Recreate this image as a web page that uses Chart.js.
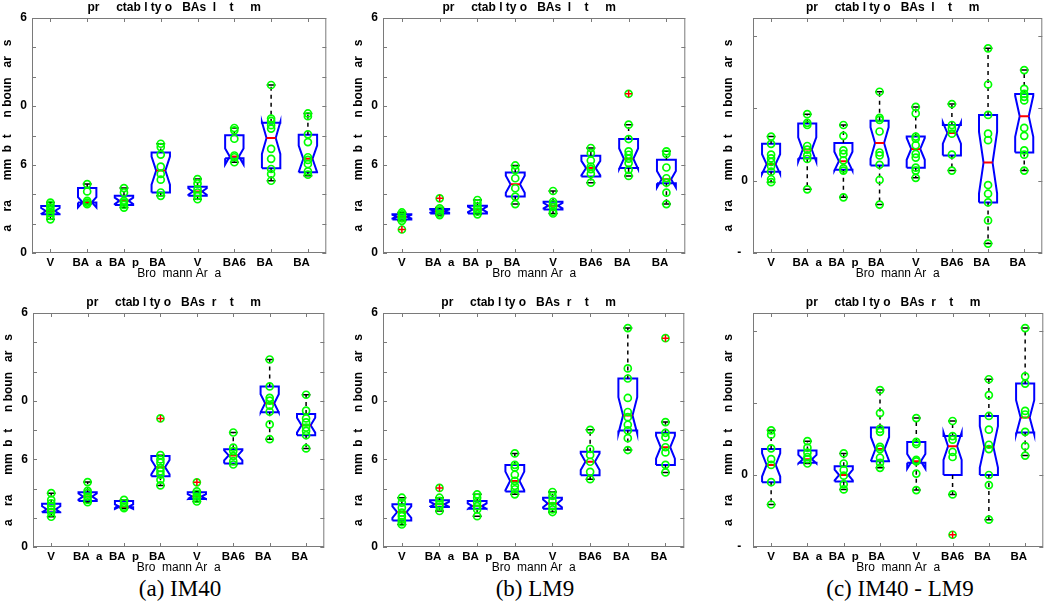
<!DOCTYPE html>
<html>
<head>
<meta charset="utf-8">
<script src="https://cdn.jsdelivr.net/npm/chart.js@4.4.1/dist/chart.umd.min.js"></script>
<style>
    body { margin: 0; background: #fff; width: 1050px; height: 609px; position: relative; overflow: hidden; }
    .panel { position: absolute; }
    .caption { position: absolute; font-family: 'Liberation Serif', 'Times New Roman', serif; font-size: 23px; white-space: nowrap; transform: translateX(-50%); color: #000; }
</style>
</head>
<body>
<div class="panel" style="left:0px;top:0px"><canvas id="aTop" width="332" height="281"></canvas></div>
<div class="panel" style="left:351px;top:0px"><canvas id="bTop" width="340" height="281"></canvas></div>
<div class="panel" style="left:721px;top:0px"><canvas id="cTop" width="327" height="281"></canvas></div>
<div class="panel" style="left:1px;top:295px"><canvas id="aBot" width="329" height="280"></canvas></div>
<div class="panel" style="left:351px;top:295px"><canvas id="bBot" width="339" height="280"></canvas></div>
<div class="panel" style="left:721px;top:295px"><canvas id="cBot" width="328" height="280"></canvas></div>
<div class="caption" style="left:180px;top:576px">(a) IM40</div>
<div class="caption" style="left:535px;top:576px">(b) LM9</div>
<div class="caption" style="left:900px;top:576px">(c) IM40 - LM9</div>

<script>
// 카테고리 / 축 라벨
const categories = ['V', 'BA  a', 'BA  p', 'BA  ', 'V', 'BA6', 'BA    ', 'BA    '];
const titleLeft = 'pr     ctab l ty o   BAs  l    t     m   ';
const titleRight = 'pr     ctab l ty o   BAs  r    t     m   ';
const xTitle = 'Bro  mann Ar  a';
const yTitle = 'a    ra      mm  b  t     n boun   ar   s';

// y 눈금 (값 / 표시 텍스트)
const absTicks = [0, 2, 4, 6, 8, 10, 12, 14, 16];
const absTickText = ['0', '', '', '6', '', '0', '', '', '6'];
const diffTicks = [-1, 0, 1, 2];
const diffTickText = ['-  ', '0', '', ''];

const nSubjects = 20;
const boxHalf = 0.25;
const capHalf = 0.12;

// (a) IM40 - 좌반구
const aTopQ1 = [2.63, 3.43, 3.27, 4.12, 3.89, 6.45, 5.77, 5.49];
const aTopMed = [2.86, 3.45, 3.55, 5.61, 4.19, 6.57, 7.83, 6.41];
const aTopQ3 = [3.20, 4.42, 3.89, 6.84, 4.51, 8.01, 8.86, 8.05];
const aTopLo = [2.29, 3.32, 3.09, 3.89, 3.66, 6.18, 4.92, 5.26];
const aTopHi = [3.43, 4.69, 4.42, 7.44, 5.03, 8.51, 11.44, 9.50];
const aTopPts = [
    [3.43, 3.27, 3.09, 2.91, 2.75, 2.52, 2.29],
    [4.69, 4.19, 3.55, 3.43, 3.32],
    [4.42, 4.12, 3.55, 3.43, 3.27, 3.09],
    [7.44, 7.21, 6.70, 5.88, 5.38, 4.99, 4.12, 3.89],
    [5.03, 4.74, 4.35, 4.12, 3.89, 3.66],
    [8.51, 8.35, 7.78, 6.64, 6.52, 6.18],
    [11.44, 9.15, 8.99, 8.70, 8.47, 7.09, 6.41, 5.72, 5.38, 4.92],
    [9.50, 9.31, 8.08, 7.55, 6.52, 6.34, 6.06, 5.56, 5.33],
];
const aTopOut = [[], [], [], [], [], [], [], []];

// (b) LM9 - 좌반구
const bTopQ1 = [2.28, 2.69, 2.69, 3.84, 2.97, 5.21, 5.78, 4.75];
const bTopMed = [2.47, 2.85, 2.97, 4.68, 3.22, 5.78, 6.42, 5.02];
const bTopQ3 = [2.63, 2.99, 3.22, 5.48, 3.49, 6.62, 7.76, 6.35];
const bTopLo = [2.19, 2.58, 2.63, 3.33, 2.69, 4.79, 5.25, 3.33];
const bTopHi = [2.76, 3.10, 3.61, 5.96, 4.22, 7.15, 8.74, 6.92];
const bTopPts = [
    [2.76, 2.63, 2.47, 2.35, 2.19],
    [3.04, 2.88, 2.69, 2.58],
    [3.61, 3.38, 3.15, 2.97, 2.81, 2.63],
    [5.96, 5.66, 5.09, 4.41, 3.84, 3.33],
    [4.22, 3.49, 3.33, 3.15, 2.81, 2.69],
    [7.15, 6.80, 6.30, 5.89, 5.71, 5.39, 4.79],
    [8.74, 7.76, 6.92, 6.69, 6.42, 6.12, 5.66, 5.25],
    [6.92, 6.74, 5.82, 5.09, 4.79, 4.11, 3.33],
];
const bTopOut = [[1.60], [3.72], [], [], [], [], [10.84], []];

// (c) IM40 - LM9 - 좌반구
const cTopQ1 = [0.125, 0.31, 0.15, 0.21, 0.18, 0.35, -0.30, 0.39];
const cTopMed = [0.23, 0.43, 0.27, 0.52, 0.44, 0.66, 0.25, 0.89];
const cTopQ3 = [0.51, 0.79, 0.52, 0.83, 0.61, 0.77, 0.91, 1.20];
const cTopLo = [-0.02, -0.12, -0.23, -0.33, 0.04, 0.14, -0.87, 0.14];
const cTopHi = [0.61, 0.92, 0.77, 1.23, 1.02, 1.06, 1.83, 1.53];
const cTopPts = [
    [0.61, 0.51, 0.36, 0.31, 0.26, 0.20, 0.125, 0.02, -0.02],
    [0.92, 0.80, 0.77, 0.48, 0.43, 0.35, 0.30, -0.12],
    [0.77, 0.62, 0.42, 0.37, 0.28, 0.17, 0.14, -0.23],
    [1.23, 0.87, 0.84, 0.68, 0.39, 0.35, 0.22, 0.01, -0.33],
    [1.02, 0.93, 0.61, 0.58, 0.49, 0.37, 0.32, 0.18, 0.14, 0.04],
    [1.06, 0.77, 0.72, 0.65, 0.36, 0.14],
    [1.83, 1.33, 0.91, 0.65, 0.56, -0.06, -0.18, -0.30, -0.55, -0.87],
    [1.53, 1.27, 1.20, 1.16, 1.11, 0.73, 0.62, 0.42, 0.36, 0.14],
];
const cTopOut = [[], [], [], [], [], [], [], []];

// (a) IM40 - 우반구
const aBotQ1 = [2.37, 3.15, 2.72, 4.83, 3.29, 5.71, 9.21, 7.64];
const aBotMed = [2.58, 3.45, 2.76, 5.46, 3.45, 6.26, 9.83, 8.33];
const aBotQ3 = [2.95, 3.75, 3.15, 6.22, 3.75, 6.68, 10.98, 9.09];
const aBotLo = [2.07, 3.06, 2.65, 4.21, 3.11, 5.64, 7.37, 6.74];
const aBotHi = [3.68, 4.44, 3.22, 6.28, 3.80, 7.83, 12.82, 10.41];
const aBotPts = [
    [3.68, 3.22, 2.99, 2.81, 2.58, 2.37, 2.07],
    [4.44, 3.84, 3.68, 3.45, 3.22, 3.06],
    [3.22, 2.99, 2.76, 2.65],
    [6.28, 5.99, 5.76, 5.41, 5.18, 4.95, 4.60, 4.21],
    [3.80, 3.64, 3.45, 3.29, 3.11],
    [7.83, 6.79, 6.56, 6.22, 5.87, 5.64],
    [12.82, 10.98, 10.20, 10.01, 9.67, 9.25, 8.38, 7.37],
    [10.41, 9.32, 8.79, 8.52, 8.17, 7.94, 7.64, 6.74],
];
const aBotOut = [[], [], [], [8.79], [4.42], [], [], []];

// (b) LM9 - 우반구
const bBotQ1 = [1.81, 2.73, 2.62, 3.79, 2.62, 4.91, 7.97, 5.60];
const bBotMed = [2.39, 2.92, 2.80, 4.52, 2.98, 5.83, 9.00, 6.82];
const bBotQ3 = [2.92, 3.19, 3.15, 5.60, 3.37, 6.52, 11.52, 7.81];
const bBotLo = [1.54, 2.46, 2.11, 3.60, 2.39, 4.64, 6.63, 5.10];
const bBotHi = [3.37, 3.37, 3.60, 6.40, 3.76, 8.01, 14.97, 8.54];
const bBotPts = [
    [3.37, 3.03, 2.69, 2.35, 2.11, 1.88, 1.70, 1.54],
    [3.37, 3.15, 2.92, 2.76, 2.46],
    [3.60, 3.37, 3.08, 2.80, 2.57, 2.11],
    [6.40, 5.62, 5.44, 4.94, 4.52, 4.18, 3.95, 3.60],
    [3.76, 3.49, 3.15, 2.80, 2.57, 2.39],
    [8.01, 6.70, 6.29, 5.83, 5.14, 4.64],
    [14.97, 12.21, 11.52, 10.19, 9.23, 8.88, 8.36, 7.97, 7.44, 6.63],
    [8.54, 7.81, 7.51, 6.82, 6.47, 5.62, 5.10],
];
const bBotOut = [[], [4.04], [], [], [], [], [], [14.28]];

// (c) IM40 - LM9 - 우반구
const cBotQ1 = [-0.10, 0.17, -0.09, 0.19, 0.17, 0.0, 0.0, 0.59];
const cBotMed = [0.14, 0.22, 0.0, 0.36, 0.19, 0.40, 0.39, 0.80];
const cBotQ3 = [0.36, 0.34, 0.12, 0.66, 0.46, 0.54, 0.82, 1.27];
const cBotLo = [-0.41, 0.16, -0.20, 0.10, -0.21, -0.27, -0.62, 0.27];
const cBotHi = [0.62, 0.47, 0.30, 1.18, 0.79, 0.75, 1.33, 2.04];
const cBotPts = [
    [0.62, 0.56, 0.37, 0.22, 0.14, -0.10, -0.41],
    [0.47, 0.38, 0.31, 0.25, 0.22, 0.16],
    [0.30, 0.16, 0.07, -0.01, -0.13, -0.20],
    [1.18, 0.86, 0.64, 0.60, 0.39, 0.36, 0.24, 0.17, 0.10],
    [0.79, 0.46, 0.43, 0.21, 0.19, 0.02, -0.21],
    [0.75, 0.54, 0.49, 0.32, 0.25, -0.27],
    [1.33, 1.11, 0.82, 0.63, 0.42, 0.36, 0.0, -0.14, -0.62],
    [2.04, 1.37, 1.27, 0.89, 0.84, 0.60, 0.40, 0.27],
];
const cBotOut = [[], [], [], [], [], [-0.83], [], []];

const FONT = "'Liberation Sans', Arial, sans-serif";

// 프레임 + 안쪽 눈금 (MATLAB 스타일)
const framePlugin = {
    id: 'frame',
    beforeDatasetsDraw(chart) {
        const { ctx, chartArea: a, scales: { x, y } } = chart;
        ctx.save();
        ctx.strokeStyle = '#7a7a7a';
        ctx.lineWidth = 1;
        ctx.strokeRect(a.left + 0.5, a.top + 0.5, a.width - 1, a.height - 1);
        ctx.beginPath();
        y.ticks.forEach(t => {
            const py = Math.round(y.getPixelForValue(t.value)) + 0.5;
            ctx.moveTo(a.left, py); ctx.lineTo(a.left + 4, py);
            ctx.moveTo(a.right, py); ctx.lineTo(a.right - 4, py);
        });
        x.ticks.forEach(t => {
            const px = Math.round(x.getPixelForValue(t.value)) + 0.5;
            ctx.moveTo(px, a.top); ctx.lineTo(px, a.top + 4);
            ctx.moveTo(px, a.bottom); ctx.lineTo(px, a.bottom - 4);
        });
        ctx.stroke();
        ctx.restore();
    }
};

/**
 * 노치 박스플롯 패널 생성
 */
function boxPanel(id, title, yMin, yMax, yTicks, yTickText, q1, med, q3, lo, hi, pts, outs) {
    const boxLine = [], medLine = [], whisk = [], caps = [], dots = [], outPts = [];
    categories.forEach((c, i) => {
        const x = i + 1;
        const gap = { x, y: null };
        const notch = 1.57 * (q3[i] - q1[i]) / Math.sqrt(nSubjects);
        const nLo = med[i] - notch, nHi = med[i] + notch;
        boxLine.push(
            { x: x - boxHalf, y: q1[i] }, { x: x - boxHalf, y: nLo }, { x: x - boxHalf / 2, y: med[i] },
            { x: x - boxHalf, y: nHi }, { x: x - boxHalf, y: q3[i] }, { x: x + boxHalf, y: q3[i] },
            { x: x + boxHalf, y: nHi }, { x: x + boxHalf / 2, y: med[i] }, { x: x + boxHalf, y: nLo },
            { x: x + boxHalf, y: q1[i] }, { x: x - boxHalf, y: q1[i] }, gap
        );
        medLine.push({ x: x - boxHalf / 2, y: med[i] }, { x: x + boxHalf / 2, y: med[i] }, gap);
        whisk.push({ x, y: q3[i] }, { x, y: hi[i] }, gap, { x, y: q1[i] }, { x, y: lo[i] }, gap);
        caps.push({ x: x - capHalf, y: hi[i] }, { x: x + capHalf, y: hi[i] }, gap,
                  { x: x - capHalf, y: lo[i] }, { x: x + capHalf, y: lo[i] }, gap);
        pts[i].forEach(v => dots.push({ x, y: v }));
        outs[i].forEach(v => { dots.push({ x, y: v }); outPts.push({ x, y: v }); });
    });

    const lineSet = (data, color, extra) => Object.assign({
        data, showLine: true, borderColor: color, borderWidth: 2, pointRadius: 0,
        fill: false, tension: 0, spanGaps: false,
    }, extra);

    new Chart(document.getElementById(id), {
        type: 'scatter',
        data: {
            datasets: [
                { data: outPts, pointStyle: 'cross', pointRadius: 3.5, borderColor: '#ff0000', borderWidth: 1.5 },
                { data: dots, pointStyle: 'circle', pointRadius: 3.5, borderColor: '#00ff00',
                  backgroundColor: 'rgba(0,0,0,0)', borderWidth: 1.7 },
                lineSet(medLine, '#ff0000'),
                lineSet(caps, '#000000', { borderWidth: 1.5 }),
                lineSet(whisk, '#000000', { borderWidth: 1.5, borderDash: [4, 4] }),
                lineSet(boxLine, '#0000ff'),
            ],
        },
        options: {
            responsive: false,
            animation: false,
            devicePixelRatio: 1,
            layout: { padding: { left: 0, right: 2, top: 0, bottom: 0 } },
            plugins: {
                legend: { display: false },
                tooltip: { enabled: false },
                title: {
                    display: true, text: title, fullSize: false, color: '#000',
                    font: { family: FONT, size: 12, weight: 'bold' },
                    padding: { top: 0, bottom: 3.6 },
                },
            },
            scales: {
                x: {
                    type: 'linear', min: 0.5, max: 8.5,
                    grid: { display: false, drawTicks: false }, border: { display: false },
                    afterBuildTicks: s => { s.ticks = categories.map((c, i) => ({ value: i + 1 })); },
                    afterFit: s => { s.height = 28; },
                    ticks: {
                        autoSkip: false, maxRotation: 0, padding: 3, color: '#000',
                        font: { family: FONT, size: 11.5, weight: 'bold' },
                        callback: (v, i) => categories[i],
                    },
                    title: { display: true, text: xTitle, color: '#000', padding: 0,
                             font: { family: FONT, size: 12 } },
                },
                y: {
                    type: 'linear', min: yMin, max: yMax,
                    grid: { display: false, drawTicks: false }, border: { display: false },
                    afterBuildTicks: s => { s.ticks = yTicks.map(v => ({ value: v })); },
                    afterFit: s => { s.width = 32; },
                    ticks: {
                        padding: 5, color: '#000',
                        font: { family: FONT, size: 12, weight: 'bold' },
                        callback: (v, i) => yTickText[i],
                    },
                    title: { display: true, text: yTitle, color: '#000', padding: 0,
                             font: { family: FONT, size: 12, weight: 'bold' } },
                },
            },
        },
        plugins: [framePlugin],
    });
}

boxPanel('aTop', titleLeft, 0, 16, absTicks, absTickText, aTopQ1, aTopMed, aTopQ3, aTopLo, aTopHi, aTopPts, aTopOut);
boxPanel('bTop', titleLeft, 0, 16, absTicks, absTickText, bTopQ1, bTopMed, bTopQ3, bTopLo, bTopHi, bTopPts, bTopOut);
boxPanel('cTop', titleLeft, -1, 2.25, diffTicks, diffTickText, cTopQ1, cTopMed, cTopQ3, cTopLo, cTopHi, cTopPts, cTopOut);
boxPanel('aBot', titleRight, 0, 16, absTicks, absTickText, aBotQ1, aBotMed, aBotQ3, aBotLo, aBotHi, aBotPts, aBotOut);
boxPanel('bBot', titleRight, 0, 16, absTicks, absTickText, bBotQ1, bBotMed, bBotQ3, bBotLo, bBotHi, bBotPts, bBotOut);
boxPanel('cBot', titleRight, -1, 2.25, diffTicks, diffTickText, cBotQ1, cBotMed, cBotQ3, cBotLo, cBotHi, cBotPts, cBotOut);
</script>
</body>
</html>
